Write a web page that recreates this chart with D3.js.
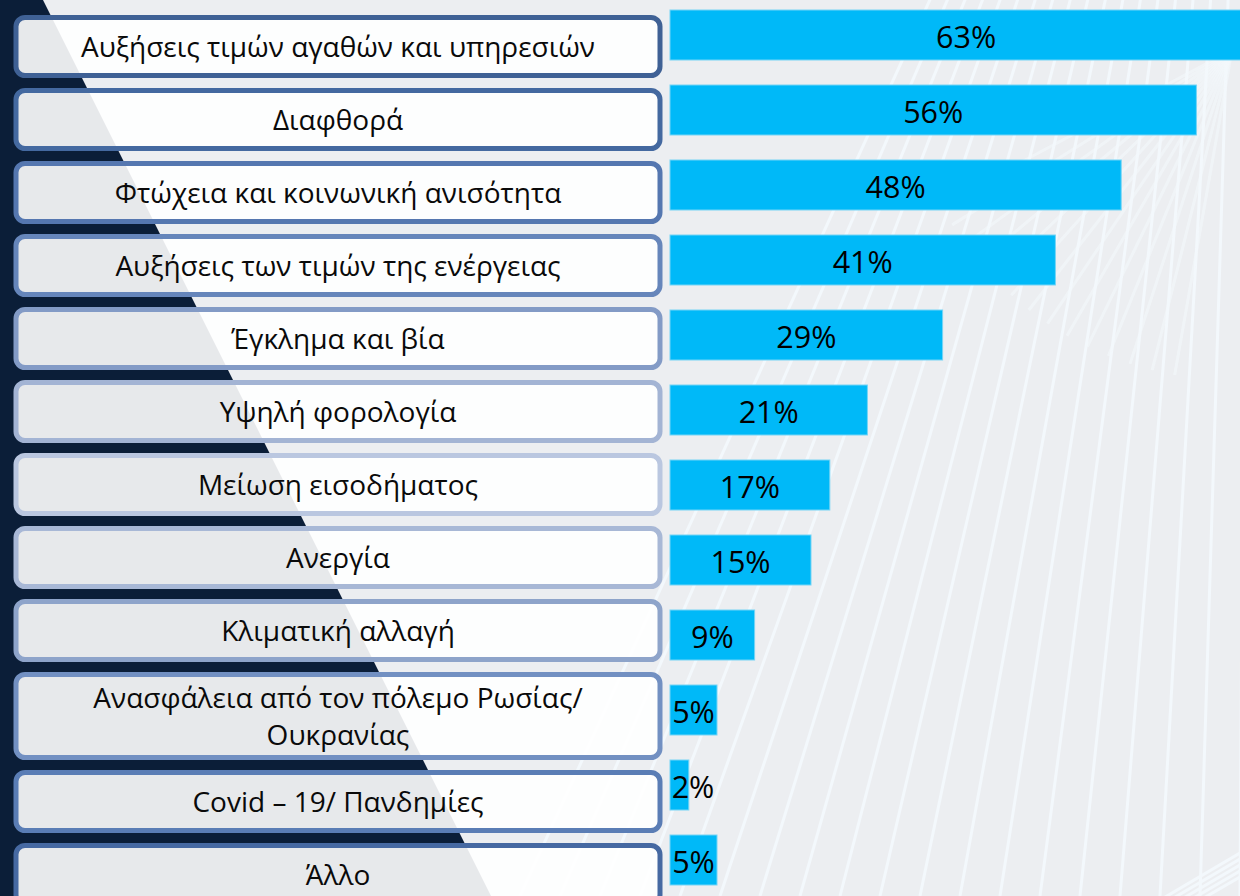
<html lang="el">
<head>
  <meta charset="UTF-8"/>
  <title>Concerns chart</title>
  <script src="https://d3js.org/d3.v7.min.js"></script>
</head>
<style>
body {
  margin: 0;
  font-family: 'Open Sans', sans-serif;
}

svg {
  display: block;
}

.bar {
  fill: #00b9f8;
  stroke: #74d4f6;
  stroke-width: 1;
}

.box {
  fill: #ffffff;
  fill-opacity: 0.9;
  stroke-width: 5;
}

text.label {
  font-size: 28px;
  fill: #0a0a0a;
}

text.value {
  font-size: 30.5px;
  fill: #000;
}

.ray {
  stroke: #f3f8fc;
  stroke-width: 3;
  fill: none;
}
</style>
<body>
  <div id='container'>
    <svg width="1240" height="896"></svg>
  </div>
<script>
    const categories = [
      'Αυξήσεις τιμών αγαθών και υπηρεσιών',
      'Διαφθορά',
      'Φτώχεια και κοινωνική ανισότητα',
      'Αυξήσεις των τιμών της ενέργειας',
      'Έγκλημα και βία',
      'Υψηλή φορολογία',
      'Μείωση εισοδήματος',
      'Ανεργία',
      'Κλιματική αλλαγή',
      'Ανασφάλεια από τον πόλεμο Ρωσίας/ Ουκρανίας',
      'Covid – 19/ Πανδημίες',
      'Άλλο'
    ];

    const values = [63, 56, 48, 41, 29, 21, 17, 15, 9, 5, 2, 5];

    // box outline colours, top to bottom
    const borderColors = [
      '#3f6195', '#4469a0', '#5577b0', '#6686bb', '#839bc6', '#a3b4d4',
      '#bac7e0', '#a8b8d6', '#8ea4ca', '#7290c2', '#5a7db5', '#4669a2'
    ];

    const W = 1240;
    const H = 896;

    const svg = d3.select('svg');

    // background
    svg.append('rect')
      .attr('width', W)
      .attr('height', H)
      .attr('fill', '#eceef1');

    // light rays on the right
    const rays = svg.append('g');
    d3.range(520, 1260, 40).forEach((bx) => {
      rays.append('line')
        .attr('class', 'ray')
        .attr('x1', 1250).attr('y1', -700)
        .attr('x2', bx).attr('y2', H);
    });
    d3.range(0, 14).forEach((i) => {
      const a = (100 + i * 4) * Math.PI / 180;
      rays.append('line')
        .attr('class', 'ray')
        .attr('stroke-opacity', 0.6)
        .attr('stroke-width', 2)
        .attr('x1', 1232).attr('y1', 50)
        .attr('x2', 1232 + Math.cos(a) * 330)
        .attr('y2', 50 + Math.sin(a) * 330);
    });
    d3.range(0, 5).forEach((i) => {
      rays.append('line')
        .attr('class', 'ray')
        .attr('x1', 1245).attr('y1', 850 + i * 6)
        .attr('x2', 1150 + i * 10).attr('y2', H + 10);
    });

    // dark navy wedge on the left
    svg.append('path')
      .attr('d', `M0,0 L43,0 L491,${H} L0,${H} Z`)
      .attr('fill', '#0b1e38');

    // value scales
    const yScale = d3.scaleBand()
      .domain(categories)
      .range([-2.5, 897.5])
      .paddingInner(1 / 3)
      .paddingOuter(1 / 6);

    const xScale = d3.scaleLinear()
      .domain([0, 100])
      .range([670, 1610]);

    // label boxes
    const boxLeft = 16;
    const boxWidth = 644;
    const labelGroup = svg.append('g');

    const labels = labelGroup.selectAll('text')
      .data(categories)
      .enter()
      .append('text')
      .attr('class', 'label')
      .attr('text-anchor', 'middle')
      .attr('x', boxLeft + boxWidth / 2);

    // wrap long labels
    const lineCount = [];
    labels.each(function (d, i) {
      const el = d3.select(this);
      const words = d.split(' ');
      const lines = [];
      let cur = [];
      const probe = el.append('tspan');
      words.forEach((w) => {
        const test = cur.concat([w]).join(' ');
        probe.text(test);
        if (probe.node().getComputedTextLength() > 580 && cur.length) {
          lines.push(cur.join(' '));
          cur = [w];
        } else {
          cur.push(w);
        }
      });
      lines.push(cur.join(' '));
      probe.remove();
      lineCount[i] = lines;
    });

    let boxTop = 15;
    const gap = 10;
    const rowBoxes = categories.map((c, i) => {
      const h = 63 + 25 * (lineCount[i].length - 1);
      const box = { top: boxTop, h: h };
      boxTop += h + gap;
      return box;
    });

    labelGroup.selectAll('rect')
      .data(categories)
      .enter()
      .insert('rect', 'text')
      .attr('class', 'box')
      .attr('x', boxLeft)
      .attr('y', (d, i) => rowBoxes[i].top + 2.5)
      .attr('width', boxWidth)
      .attr('height', (d, i) => rowBoxes[i].h - 5)
      .attr('rx', 9)
      .attr('stroke', (d, i) => borderColors[i]);

    labels.each(function (d, i) {
      const el = d3.select(this);
      const lines = lineCount[i];
      const mid = rowBoxes[i].top + rowBoxes[i].h / 2;
      const lh = 37;
      lines.forEach((ln, j) => {
        el.append('tspan')
          .attr('x', boxLeft + boxWidth / 2)
          .attr('y', mid + 10 + (j - (lines.length - 1) / 2) * lh)
          .text(ln);
      });
    });

    // bars
    const barGroups = svg.selectAll('g.barg')
      .data(categories)
      .enter()
      .append('g')
      .attr('class', 'barg');

    barGroups.append('rect')
      .attr('class', 'bar')
      .attr('x', xScale(0))
      .attr('y', (d) => yScale(d))
      .attr('width', (d, i) => xScale(values[i]) - xScale(0))
      .attr('height', yScale.bandwidth());

    barGroups.append('text')
      .attr('class', 'value')
      .attr('text-anchor', 'middle')
      .attr('x', (d, i) => Math.max((xScale(0) + xScale(values[i])) / 2, xScale(0) + 23))
      .attr('y', (d) => yScale(d) + yScale.bandwidth() / 2 + 12.5)
      .text((d, i) => `${values[i]}%`);
</script>
</body>
</html>
